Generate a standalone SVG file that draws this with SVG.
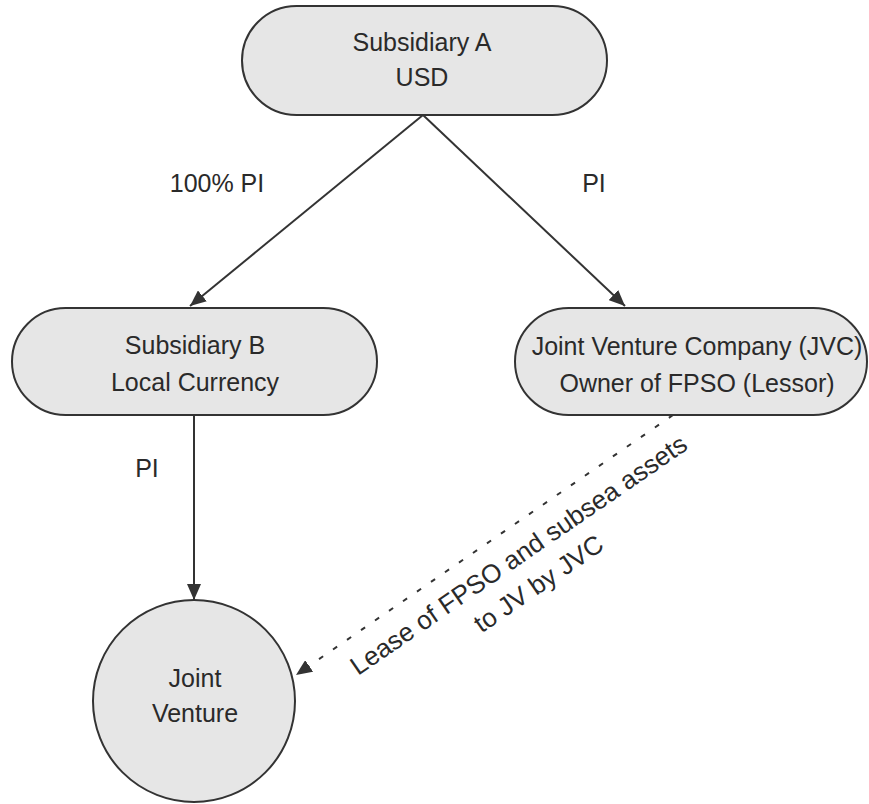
<svg xmlns="http://www.w3.org/2000/svg" width="869" height="804" viewBox="0 0 869 804">
<defs>
<style>
.node{fill:#e6e6e6;stroke:#333;stroke-width:2}
.t{font-family:"Liberation Sans",Arial,sans-serif;font-size:25px;fill:#2a2a2a;text-anchor:middle}
.edge{stroke:#333;stroke-width:2;fill:none}
.dash{stroke-dasharray:5 12}
</style>
<marker id="arr" viewBox="0 0 16 14" refX="16" refY="7" markerWidth="16" markerHeight="14" markerUnits="userSpaceOnUse" orient="auto">
<path d="M0,0 L16,7 L0,14 z" fill="#333"/>
</marker>
</defs>
<rect width="869" height="804" fill="#fff"/>
<g id="connectors">
<path class="edge" d="M423,115 L190,306" marker-end="url(#arr)"/>
<path class="edge" d="M423,115 L625,306" marker-end="url(#arr)"/>
<path class="edge" d="M194,415 L194,600" marker-end="url(#arr)"/>
<path class="edge dash" d="M673,415 L296,675" marker-end="url(#arr)"/>
<text class="t" x="217" y="192">100% PI</text>
<text class="t" x="594" y="192">PI</text>
<text class="t" x="147" y="477">PI</text>
<g transform="translate(358,676) rotate(-34.5)">
<text class="t" style="font-size:26px" x="201" y="0">Lease of FPSO and subsea assets</text>
<text class="t" style="font-size:26px" x="201" y="35">to JV by JVC</text>
</g>
</g>
<g id="subA">
<rect class="node" x="242" y="6" width="365" height="109" rx="54.5"/>
<text class="t" x="422" y="51">Subsidiary A</text>
<text class="t" x="422" y="86">USD</text>
</g>
<g id="subB">
<rect class="node" x="12" y="308" width="365" height="107" rx="53.5"/>
<text class="t" x="195" y="354">Subsidiary B</text>
<text class="t" x="195" y="391">Local Currency</text>
</g>
<g id="jvc">
<rect class="node" x="515" y="308" width="352" height="107" rx="53.5"/>
<text class="t" x="697" y="355">Joint Venture Company (JVC)</text>
<text class="t" x="697" y="392">Owner of FPSO (Lessor)</text>
</g>
<g id="jv">
<circle class="node" cx="194" cy="701" r="101"/>
<text class="t" x="195" y="687">Joint</text>
<text class="t" x="195" y="722">Venture</text>
</g>
</svg>
